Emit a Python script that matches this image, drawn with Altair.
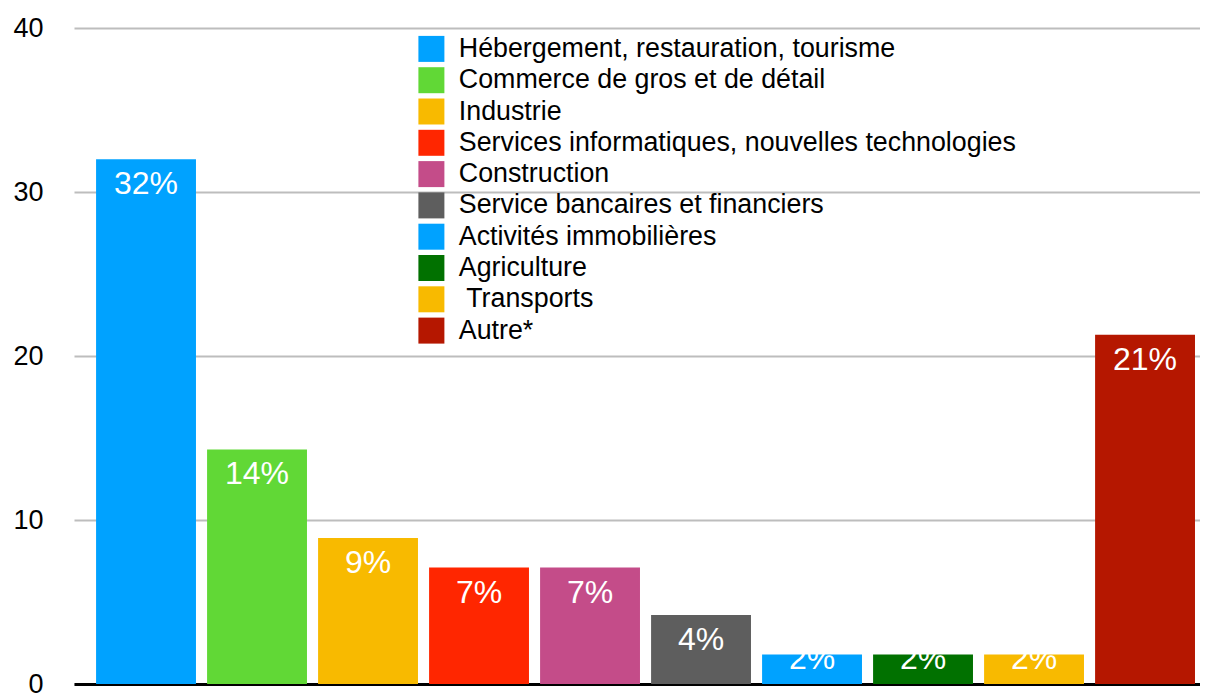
import altair as alt
import pandas as pd

categories = [
    "Hébergement, restauration, tourisme",
    "Commerce de gros et de détail",
    "Industrie",
    "Services informatiques, nouvelles technologies",
    "Construction",
    "Service bancaires et financiers",
    "Activités immobilières",
    "Agriculture",
    " Transports",
    "Autre*",
]
values = [32.0, 14.3, 8.9, 7.1, 7.1, 4.2, 1.8, 1.8, 1.8, 21.3]
colors = ["#00A2FF", "#61D836", "#F8BA00", "#FF2600", "#C44C89",
          "#5E5E5E", "#00A2FF", "#017100", "#F8BA00", "#B51700"]
y_ticks = [0, 10, 20, 30, 40]

df = pd.DataFrame({"categorie": categories, "valeur": values})

FONT = "Liberation Sans"

x_enc = alt.X("categorie:N", sort=categories,
              scale=alt.Scale(paddingInner=0.1, paddingOuter=0.122, align=0.815),
              axis=alt.Axis(labels=False, ticks=False, title=None, domain=True,
                            domainColor="#000000", domainWidth=3, grid=False))
y_enc = alt.Y("valeur:Q", scale=alt.Scale(domain=[0, 40], nice=False),
              axis=alt.Axis(values=y_ticks, title=None, ticks=False, domain=False,
                            grid=True, gridColor="#BDBDBD", gridWidth=2,
                            labelFont=FONT, labelFontSize=27, labelColor="#000000",
                            labelPadding=31))

bars = alt.Chart(df).mark_bar(cornerRadius=0).encode(
    x=x_enc,
    y=y_enc,
    color=alt.Color("categorie:N", sort=categories,
                    scale=alt.Scale(domain=categories, range=colors),
                    legend=alt.Legend(title=None, orient="none", legendX=344, legendY=7.5,
                                      symbolType="square", symbolSize=676,
                                      symbolStrokeWidth=0, labelFont=FONT,
                                      labelFontSize=26.8, labelColor="#000000",
                                      labelOffset=14, rowPadding=3.3, padding=0,
                                      labelLimit=800,
                                      labelExpr="indexof(datum.label, 'Transports') >= 0 ? '\u200b\u00a0Transports' : datum.label")),
)

labels = alt.Chart(df).transform_calculate(
    pos="max(datum.valeur, 3.05)",
    txt="format(round(datum.valeur), 'd') + '%'",
).mark_text(color="#FFFFFF", font=FONT, fontSize=32, baseline="alphabetic",
            align="center", dy=35).encode(
    x=alt.X("categorie:N", sort=categories),
    y=alt.Y("pos:Q"),
    text="txt:N",
)

chart = (bars + labels).properties(
    width=1126, height=656,
    autosize=alt.AutoSizeParams(type="none"),
    padding={"left": 66, "top": 20, "right": 0, "bottom": 9},
).configure_view(stroke=None)

chart.save("out.html", embed_options={"renderer": "svg", "actions": False})
